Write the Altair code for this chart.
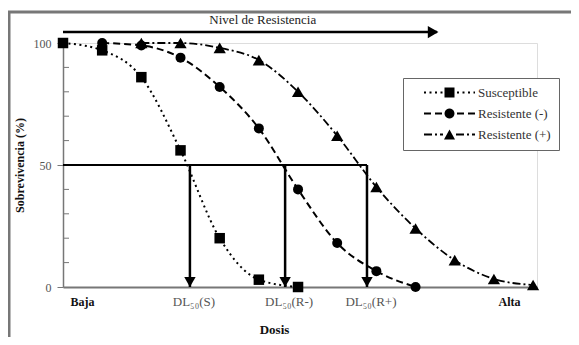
import math
import altair as alt
import pandas as pd

# ---- data ----
series = ["Susceptible", "Resistente (-)", "Resistente (+)"]
dose_s = [0, 1, 2, 3, 4, 5, 6]
surv_s = [100, 97, 86, 56, 20, 3, 0]
dose_rm = [1, 2, 3, 4, 5, 6, 7, 8, 9]
surv_rm = [100, 99, 94, 82, 65, 40, 18, 6.5, 0]
dose_rp = [2, 3, 4, 5, 6, 7, 8, 9, 10, 11, 12]
surv_rp = [100, 100, 98, 93, 80, 62, 41, 24, 11, 3.3, 0.8]

dl50_x = [3.24, 5.67, 7.76]
dl50_labels = ["DL\u2085\u2080(S)", "DL\u2085\u2080(R-)", "DL\u2085\u2080(R+)"]
end_labels = ["Baja", "Alta"]
end_x = [0.5, 11.4]
minor_ticks = [10, 20, 30, 40, 60, 70, 80, 90]
arrow_x = [0, 9.55]
arrow_y = 104.5
arrow_text = "Nivel de Resistencia"
arrow_text_x = 5.1
arrow_text_y = 109.4

X_DOMAIN = [0, 12.1]
Y_DOMAIN = [0, 100]
FONT = "Liberation Serif, Times New Roman, serif"

rows = []
for name, xv, yv in [(series[0], dose_s, surv_s), (series[1], dose_rm, surv_rm), (series[2], dose_rp, surv_rp)]:
    for a, b in zip(xv, yv):
        rows.append({"dosis": a, "sobrevivencia": b, "serie": name})
df = pd.DataFrame(rows)

xs = alt.Scale(domain=X_DOMAIN, nice=False, zero=False)
ys = alt.Scale(domain=Y_DOMAIN, nice=False)

X = alt.X("dosis:Q", scale=xs, axis=alt.Axis(
    labels=False, ticks=False, grid=False, domainColor="#777", domainWidth=2,
    title="Dosis", titleFont=FONT, titleFontSize=13, titleFontWeight="bold",
    titleColor="#111", titleX=211, titleY=42, titleBaseline="middle", titleAlign="center"))
Y = alt.Y("sobrevivencia:Q", scale=ys, axis=alt.Axis(
    values=[0, 50, 100], tickSize=6, tickColor="#777", grid=False,
    domainColor="#777", domainWidth=1.5, labelColor="#555", labelFontSize=12,
    labelFont=FONT, labelPadding=6,
    title="Sobrevivencia (%)", titleFont=FONT, titleFontSize=12, titleFontWeight="bold",
    titleColor="#111", titleX=-44, titleY=122, titleBaseline="middle", titleAlign="center"))

styles = {
    series[0]: dict(dash=[2, 3.5], shape="square", size=110, width=2.0),
    series[1]: dict(dash=[7, 4], shape="circle", size=100, width=2.0),
    series[2]: dict(dash=[8, 3, 2, 3], shape="triangle-up", size=150, width=1.8),
}

# ---- legend symbols: line pattern + marker drawn as one custom path ----
SYM = 12.0          # nominal symbol width (sqrt of symbol size)
U = SYM / 2.0       # px per path unit
SHIFT = 32.0        # px shift of the drawn symbol to the right


def rect(x0, y0, x1, y1):
    return "M%.3f,%.3fH%.3fV%.3fH%.3fZ" % ((x0 + SHIFT) / U, y0 / U, (x1 + SHIFT) / U, y1 / U, (x0 + SHIFT) / U)


def legend_path(pattern, marker):
    half_len, th, clear = 25.5, 0.9, 6.5
    parts = []
    pos, i = -half_len, 0
    while pos < half_len:
        seg = pattern[i % len(pattern)]
        if i % 2 == 0:
            a, b = pos, min(pos + seg, half_len)
            for s, e in [(a, min(b, -clear)), (max(a, clear), b)]:
                if e - s > 0.2:
                    parts.append(rect(s, -th, e, th))
        pos += seg
        i += 1
    if marker == "square":
        parts.append(rect(-5, -5, 5, 5))
    elif marker == "circle":
        pts = ["%.3f,%.3f" % ((5 * math.cos(2 * math.pi * k / 20) + SHIFT) / U,
                              5 * math.sin(2 * math.pi * k / 20) / U) for k in range(20)]
        parts.append("M" + "L".join(pts) + "Z")
    else:
        parts.append("M%.3f,%.3fL%.3f,%.3fL%.3f,%.3fZ" % (
            SHIFT / U, -5 / U, (5.5 + SHIFT) / U, 5 / U, (-5.5 + SHIFT) / U, 5 / U))
    return "".join(parts)


legend_paths = [legend_path(styles[s]["dash"], styles[s]["shape"]) for s in series]

layers = []

# frame
frame = alt.Chart(alt.Data(values=[{"k": 1}])).mark_rect(
    filled=False, stroke="#777", strokeWidth=3, clip=False
).encode(x=alt.value(-54), x2=alt.value(650), y=alt.value(-31), y2=alt.value(450))
layers.append(frame)

# minor ticks on the y axis (inward)
minor = alt.Chart(pd.DataFrame({"sobrevivencia": minor_ticks})).mark_rule(
    color="#777", strokeWidth=1
).encode(y=alt.Y("sobrevivencia:Q", scale=ys), x=alt.value(1), x2=alt.value(6))
layers.append(minor)

# curves
for s in series:
    st = styles[s]
    layers.append(
        alt.Chart(df).transform_filter(alt.datum.serie == s).mark_line(
            interpolate="monotone", color="black", strokeDash=st["dash"], strokeWidth=st["width"]
        ).encode(x=X, y=Y)
    )

# DL50 guide lines
hline = alt.Chart(pd.DataFrame({"x0": [0], "x1": [dl50_x[-1]], "y": [50]})).mark_rule(
    color="black", strokeWidth=2
).encode(x=alt.X("x0:Q", scale=xs), x2="x1:Q", y=alt.Y("y:Q", scale=ys))
layers.append(hline)

dl_df = pd.DataFrame({"x": dl50_x, "lab": dl50_labels, "y0": [50] * 3, "y1": [0] * 3})
vlines = alt.Chart(dl_df).mark_rule(color="black", strokeWidth=2.5).encode(
    x=alt.X("x:Q", scale=xs), y=alt.Y("y0:Q", scale=ys), y2="y1:Q")
layers.append(vlines)
vheads = alt.Chart(dl_df).mark_point(
    shape="triangle-down", filled=True, color="black", size=130, opacity=1, yOffset=-5
).encode(x=alt.X("x:Q", scale=xs), y=alt.Y("y1:Q", scale=ys))
layers.append(vheads)

# top "Nivel de Resistencia" arrow
top_df = pd.DataFrame({"x0": [arrow_x[0]], "x1": [arrow_x[1]], "y": [arrow_y]})
layers.append(alt.Chart(top_df).mark_rule(color="black", strokeWidth=2.5).encode(
    x=alt.X("x0:Q", scale=xs), x2="x1:Q", y=alt.Y("y:Q", scale=ys)))
layers.append(alt.Chart(top_df).mark_point(
    shape="triangle-right", filled=True, color="black", size=150, opacity=1, xOffset=-4
).encode(x=alt.X("x1:Q", scale=xs), y=alt.Y("y:Q", scale=ys)))
layers.append(alt.Chart(pd.DataFrame({"x": [arrow_text_x], "y": [arrow_text_y], "t": [arrow_text]})).mark_text(
    font=FONT, fontSize=13, color="#222"
).encode(x=alt.X("x:Q", scale=xs), y=alt.Y("y:Q", scale=ys), text="t:N"))

# points
for s in series:
    st = styles[s]
    layers.append(
        alt.Chart(df).transform_filter(alt.datum.serie == s).mark_point(
            shape=st["shape"], filled=True, color="black", size=st["size"], opacity=1
        ).encode(x=X, y=Y)
    )

# x labels
layers.append(alt.Chart(pd.DataFrame({"x": end_x, "y": [0, 0], "t": end_labels})).mark_text(
    font=FONT, fontSize=12, fontWeight="bold", color="#111", dy=15
).encode(x=alt.X("x:Q", scale=xs), y=alt.Y("y:Q", scale=ys), text="t:N"))
layers.append(alt.Chart(dl_df).mark_text(
    font=FONT, fontSize=13, color="#555", dy=15, dx=4
).encode(x=alt.X("x:Q", scale=xs), y=alt.Y("y1:Q", scale=ys), text="lab:N"))

# legend carrier (no marks drawn; legend only)
legend_layer = alt.Chart(df).transform_filter("false").mark_point(
    filled=True, color="black", opacity=1, size=SYM * SYM
).encode(
    x=alt.X("dosis:Q", scale=xs), y=alt.Y("sobrevivencia:Q", scale=ys),
    shape=alt.Shape("serie:N", scale=alt.Scale(domain=series, range=legend_paths),
                    legend=alt.Legend(
                        title=None, orient="none", legendX=340, legendY=35,
                        symbolSize=SYM * SYM, labelOffset=54,
                        symbolFillColor="black", symbolStrokeWidth=0,
                        labelFont=FONT, labelFontSize=13, labelColor="#333", labelLimit=0,
                        padding=8, rowPadding=7, strokeColor="#666", fillColor="white"))
)
layers.append(legend_layer)

chart = alt.layer(*layers).properties(
    width=474, height=244,
    padding={"left": 55, "top": 35, "right": 34, "bottom": 50},
    autosize=alt.AutoSizeParams(type="none"),
    background="white",
).configure_view(strokeWidth=0).configure(font=FONT)

chart.save("out.html", embed_options={"renderer": "svg", "actions": False})
